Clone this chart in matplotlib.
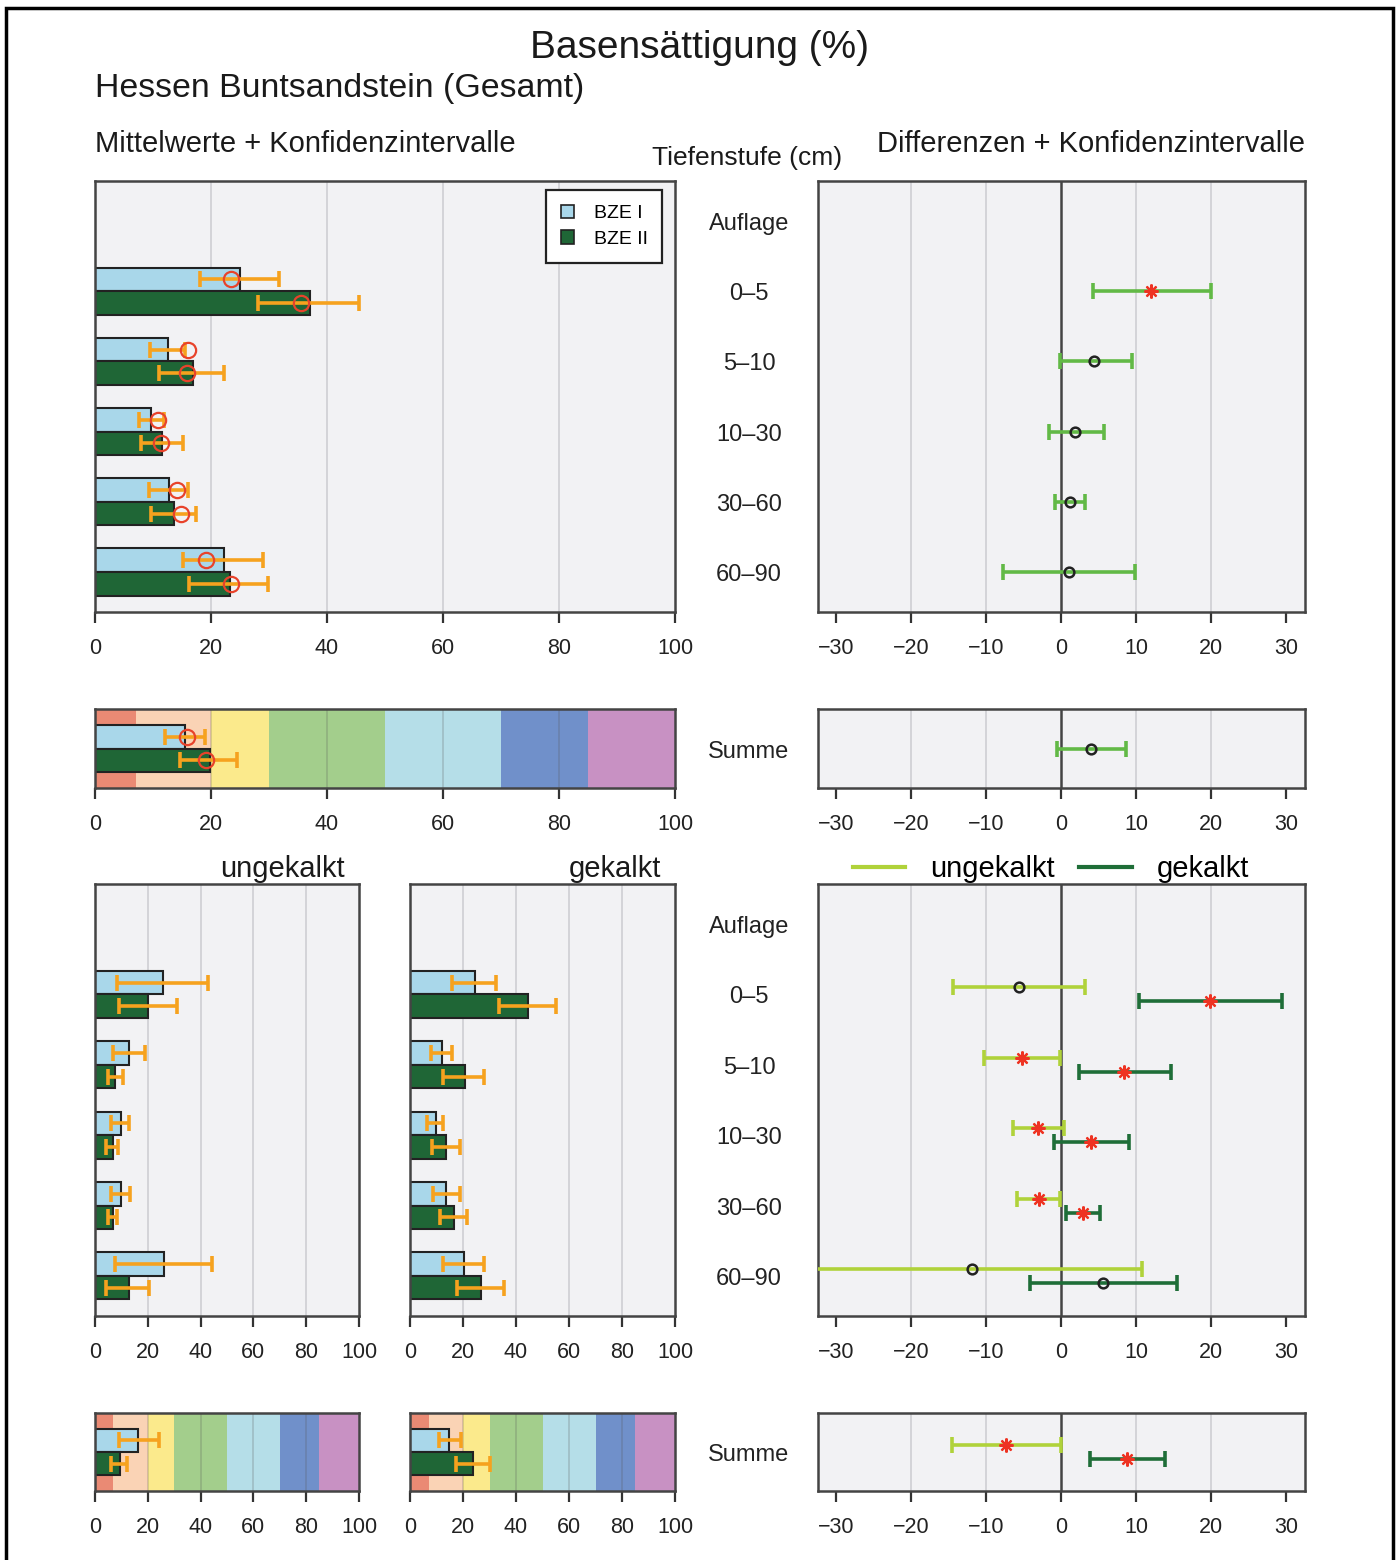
import numpy as np
import matplotlib
matplotlib.use('Agg')
import matplotlib.pyplot as plt
import matplotlib.transforms as mtransforms
from matplotlib.patches import Patch, Rectangle
from matplotlib.lines import Line2D

plt.rcParams['font.family'] = ['Liberation Sans', 'DejaVu Sans']

W, H = 1400, 1560

# Tiefenstufen (Auflage ohne Werte)
depths = ['Auflage', '0–5', '5–10', '10–30', '30–60', '60–90']
data_depths = ['0–5', '5–10', '10–30', '30–60', '60–90']

# Gesamt - Mittelwerte, Mediane, Konfidenzintervalle
ges_bze1_mean = [25.0, 12.5, 9.7, 12.7, 22.2]
ges_bze1_med = [23.4, 16.1, 10.8, 14.2, 19.2]
ges_bze1_lo = [18.1, 9.4, 7.5, 9.3, 15.1]
ges_bze1_hi = [31.8, 15.5, 11.9, 16.0, 29.0]
ges_bze2_mean = [37.0, 16.9, 11.6, 13.7, 23.2]
ges_bze2_med = [35.6, 15.8, 11.3, 14.8, 23.5]
ges_bze2_lo = [28.1, 11.1, 7.9, 9.7, 16.2]
ges_bze2_hi = [45.6, 22.3, 15.1, 17.4, 29.8]

# Gesamt - Summe
sum_bze1 = dict(mean=15.5, med=15.8, lo=12.1, hi=19.0)
sum_bze2 = dict(mean=19.8, med=19.1, lo=14.7, hi=24.5)

# Gesamt - Differenzen
ges_diff = [12.0, 4.4, 1.9, 1.2, 1.0]
ges_diff_lo = [4.2, -0.2, -1.6, -0.8, -7.8]
ges_diff_hi = [20.0, 9.4, 5.7, 3.2, 9.9]
ges_diff_sig = [True, False, False, False, False]
sum_diff = dict(est=4.0, lo=-0.5, hi=8.7, sig=False)

# ungekalkt
ung_bze1_mean = [25.7, 12.8, 9.9, 9.9, 26.1]
ung_bze1_lo = [8.4, 7.0, 6.2, 6.2, 7.5]
ung_bze1_hi = [42.8, 19.1, 13.0, 13.3, 44.2]
ung_bze2_mean = [20.0, 7.7, 6.8, 7.0, 12.8]
ung_bze2_lo = [9.1, 5.1, 4.3, 4.8, 4.3]
ung_bze2_hi = [30.9, 10.6, 8.7, 8.4, 20.6]
ung_sum1 = dict(mean=16.4, lo=9.1, hi=24.3)
ung_sum2 = dict(mean=9.4, lo=6.2, hi=12.3)

# gekalkt
gek_bze1_mean = [24.5, 11.9, 9.7, 13.4, 20.2]
gek_bze1_lo = [16.0, 8.0, 6.5, 8.6, 12.6]
gek_bze1_hi = [32.5, 15.8, 12.6, 18.7, 27.9]
gek_bze2_mean = [44.6, 20.6, 13.6, 16.5, 26.7]
gek_bze2_lo = [33.7, 12.6, 8.3, 11.2, 17.7]
gek_bze2_hi = [55.2, 27.9, 18.7, 21.6, 35.6]
gek_sum1 = dict(mean=14.8, lo=10.9, hi=19.2)
gek_sum2 = dict(mean=23.9, lo=17.3, hi=30.3)

# Differenzen ungekalkt / gekalkt
ung_diff = [-5.6, -5.2, -3.1, -3.0, -11.9]
ung_diff_lo = [-14.4, -10.3, -6.4, -5.9, -36.0]
ung_diff_hi = [3.2, -0.1, 0.4, -0.1, 10.8]
ung_diff_sig = [False, True, True, True, False]
gek_diff = [19.9, 8.4, 4.0, 2.9, 5.6]
gek_diff_lo = [10.4, 2.4, -1.0, 0.6, -4.1]
gek_diff_hi = [29.5, 14.6, 9.0, 5.2, 15.4]
gek_diff_sig = [True, True, True, True, False]
ung_sum_diff = dict(est=-7.3, lo=-14.5, hi=0.0, sig=True)
gek_sum_diff = dict(est=8.8, lo=3.8, hi=13.8, sig=True)

# Bewertungsklassen (Farbbänder)
class_bounds = [0, 7, 20, 30, 50, 70, 85, 100]
class_colors = ['#EA8A74', '#FAD3B5', '#FBEA8C', '#A3CE8C', '#B5DEE8', '#7090CA', '#C891C3']

c_bze1 = '#A9D7EA'
c_bze2 = '#1F6636'
c_err = '#F6A21E'
c_med = '#E8432B'
c_diff = '#62B946'
c_ung = '#B0D23A'
c_gek = '#1F6E38'
c_bg = '#F2F2F4'
c_frame = '#444444'

pos = np.array([depths.index(d) for d in data_depths], dtype=float)
bh = 0.335

fig = plt.figure(figsize=(W / 100, H / 100), dpi=100)
down = mtransforms.ScaledTranslation(0, -3 / 100, fig.dpi_scale_trans)


def panel(x0, y0, x1, y1):
    return fig.add_axes([x0 / W, 1 - y1 / H, (x1 - x0) / W, (y1 - y0) / H])


def style(ax, xlim, ticks, ylim, grid, bg=True):
    ax.set_xlim(*xlim)
    ax.set_ylim(*ylim)
    if bg:
        ax.set_facecolor(c_bg)
    for g in grid:
        ax.axvline(g, color='#CFCFD3', lw=1.2, zorder=0.5)
    ax.set_xticks(ticks)
    ax.set_xticklabels([str(t).replace('-', '\u2212') for t in ticks])
    ax.set_yticks([])
    ax.tick_params(axis='x', direction='out', length=8, width=1.6, color='#333333',
                   labelsize=15.5, pad=11, labelcolor='#222222')
    for s in ax.spines.values():
        s.set_color(c_frame)
        s.set_linewidth(1.8)


def bars(ax, y, m1, lo1, hi1, m2, lo2, hi2, med1=None, med2=None):
    m1, lo1, hi1 = np.atleast_1d(m1), np.atleast_1d(lo1), np.atleast_1d(hi1)
    m2, lo2, hi2 = np.atleast_1d(m2), np.atleast_1d(lo2), np.atleast_1d(hi2)
    ax.barh(y - bh / 2, m1, height=bh, color=c_bze1, edgecolor='#222222', lw=1.5, zorder=2)
    ax.barh(y + bh / 2, m2, height=bh, color=c_bze2, edgecolor='#222222', lw=1.5, zorder=2)
    for yy, m, lo, hi in ((y - bh / 2, m1, lo1, hi1), (y + bh / 2, m2, lo2, hi2)):
        ax.errorbar(m, yy, xerr=[m - lo, hi - m], fmt='none', ecolor=c_err,
                    elinewidth=2.6, capsize=6, capthick=2.6, zorder=3)
    if med1 is not None:
        ax.plot(med1, y - bh / 2, 'o', mfc='none', mec=c_med, ms=11, mew=1.6, zorder=4)
        ax.plot(med2, y + bh / 2, 'o', mfc='none', mec=c_med, ms=11, mew=1.6, zorder=4)


def diffs(ax, y, est, lo, hi, sig, color):
    est, lo, hi = np.atleast_1d(est), np.atleast_1d(lo), np.atleast_1d(hi)
    sig = np.atleast_1d(sig)
    y = np.atleast_1d(y)
    ax.errorbar(est, y, xerr=[est - lo, hi - est], fmt='none', ecolor=color,
                elinewidth=2.6, capsize=6, capthick=2.6, zorder=3)
    ax.plot(est[~sig], y[~sig], 'o', mfc='none', mec='#222222', ms=7, mew=1.8, zorder=4)
    ax.plot(est[sig], y[sig], ls='none', marker=(8, 2, 0), color='#EE3322',
            ms=10, mew=1.6, zorder=4)


def bands(ax):
    for a, b, c in zip(class_bounds[:-1], class_bounds[1:], class_colors):
        ax.axvspan(a, b, color=c, lw=0, zorder=0.3)
    for g in [20, 40, 60, 80]:
        ax.axvline(g, color='#555555', alpha=0.25, lw=1.2, zorder=0.6)


ylim_main = (5.57, -0.57)
ylim_sum = (0.5625, -0.5625)
xt_bar = [0, 20, 40, 60, 80, 100]
xt_diff = [-30, -20, -10, 0, 10, 20, 30]
xl_diff = (-32.4, 32.5)

# ---- oberer Block: Gesamt ----
ax1 = panel(95, 181, 675, 612)
style(ax1, (0, 100), xt_bar, ylim_main, [20, 40, 60, 80])
bars(ax1, pos, np.array(ges_bze1_mean), np.array(ges_bze1_lo), np.array(ges_bze1_hi),
     np.array(ges_bze2_mean), np.array(ges_bze2_lo), np.array(ges_bze2_hi),
     ges_bze1_med, ges_bze2_med)
leg = ax1.legend([Patch(fc=c_bze1, ec='#222222', lw=1.2), Patch(fc=c_bze2, ec='#222222', lw=1.2)],
                 ['BZE I', 'BZE II'], loc='upper right', bbox_to_anchor=(0.978, 0.979),
                 fontsize=14, frameon=True, fancybox=False, edgecolor='#222222',
                 framealpha=1, handlelength=0.7, handleheight=0.7, borderpad=0.75,
                 labelspacing=0.42, handletextpad=1.0, borderaxespad=0)
leg.get_frame().set_linewidth(1.6)

ax2 = panel(818, 181, 1305, 612)
style(ax2, xl_diff, xt_diff, ylim_main, [-20, -10, 10, 20])
ax2.axvline(0, color='#444444', lw=1.8, zorder=1)
diffs(ax2, pos, np.array(ges_diff), np.array(ges_diff_lo), np.array(ges_diff_hi),
      np.array(ges_diff_sig), c_diff)

ax3 = panel(95, 709, 675, 788)
style(ax3, (0, 100), xt_bar, ylim_sum, [], bg=False)
bands(ax3)
bars(ax3, np.array([0.0]), sum_bze1['mean'], sum_bze1['lo'], sum_bze1['hi'],
     sum_bze2['mean'], sum_bze2['lo'], sum_bze2['hi'], sum_bze1['med'], sum_bze2['med'])

ax4 = panel(818, 709, 1305, 788)
style(ax4, xl_diff, xt_diff, ylim_sum, [-20, -10, 10, 20])
ax4.axvline(0, color='#444444', lw=1.8, zorder=1)
diffs(ax4, 0.0, sum_diff['est'], sum_diff['lo'], sum_diff['hi'], sum_diff['sig'], c_diff)

# ---- unterer Block: ungekalkt / gekalkt ----
ax5 = panel(95, 884, 359, 1316)
style(ax5, (0, 100), xt_bar, ylim_main, [20, 40, 60, 80])
bars(ax5, pos, np.array(ung_bze1_mean), np.array(ung_bze1_lo), np.array(ung_bze1_hi),
     np.array(ung_bze2_mean), np.array(ung_bze2_lo), np.array(ung_bze2_hi))

ax6 = panel(410, 884, 675, 1316)
style(ax6, (0, 100), xt_bar, ylim_main, [20, 40, 60, 80])
bars(ax6, pos, np.array(gek_bze1_mean), np.array(gek_bze1_lo), np.array(gek_bze1_hi),
     np.array(gek_bze2_mean), np.array(gek_bze2_lo), np.array(gek_bze2_hi))

ax7 = panel(818, 884, 1305, 1316)
style(ax7, xl_diff, xt_diff, ylim_main, [-20, -10, 10, 20])
ax7.axvline(0, color='#444444', lw=1.8, zorder=1)
off = 0.1
diffs(ax7, pos - off, np.array(ung_diff), np.array(ung_diff_lo), np.array(ung_diff_hi),
      np.array(ung_diff_sig), c_ung)
diffs(ax7, pos + off, np.array(gek_diff), np.array(gek_diff_lo), np.array(gek_diff_hi),
      np.array(gek_diff_sig), c_gek)
ax7.legend([Line2D([], [], color=c_ung, lw=3), Line2D([], [], color=c_gek, lw=3)],
           ['ungekalkt', 'gekalkt'], loc='center', bbox_to_anchor=(0.478, 1.035),
           ncol=2, frameon=False, fontsize=21, handlelength=1.8, handletextpad=0.85,
           columnspacing=0.85, borderpad=0, borderaxespad=0)

ax8 = panel(95, 1413, 359, 1491)
style(ax8, (0, 100), xt_bar, ylim_sum, [], bg=False)
bands(ax8)
bars(ax8, np.array([0.0]), ung_sum1['mean'], ung_sum1['lo'], ung_sum1['hi'],
     ung_sum2['mean'], ung_sum2['lo'], ung_sum2['hi'])

ax9 = panel(410, 1413, 675, 1491)
style(ax9, (0, 100), xt_bar, ylim_sum, [], bg=False)
bands(ax9)
bars(ax9, np.array([0.0]), gek_sum1['mean'], gek_sum1['lo'], gek_sum1['hi'],
     gek_sum2['mean'], gek_sum2['lo'], gek_sum2['hi'])

ax10 = panel(818, 1413, 1305, 1491)
style(ax10, xl_diff, xt_diff, ylim_sum, [-20, -10, 10, 20])
ax10.axvline(0, color='#444444', lw=1.8, zorder=1)
diffs(ax10, -off, ung_sum_diff['est'], ung_sum_diff['lo'], ung_sum_diff['hi'],
      ung_sum_diff['sig'], c_ung)
diffs(ax10, off, gek_sum_diff['est'], gek_sum_diff['lo'], gek_sum_diff['hi'],
      gek_sum_diff['sig'], c_gek)

# Tiefenstufen-Beschriftung zwischen den Panels
for ax, labels in ((ax1, depths), (ax5, depths), (ax3, ['Summe']), (ax8, ['Summe'])):
    tr = mtransforms.blended_transform_factory(fig.transFigure, ax.transData) + down
    for i, lab in enumerate(labels):
        ax.text(749 / W, i, lab, transform=tr, ha='center', va='center',
                fontsize=17, color='#222222')

# Titel
tc = '#1a1a1a'
ft = fig.transFigure + down
fig.text(699 / W, 1 - 45 / H, 'Basensättigung (%)', ha='center', va='center', fontsize=28,
         color=tc, transform=ft)
fig.text(95 / W, 1 - 86 / H, 'Hessen Buntsandstein (Gesamt)', ha='left', va='center',
         fontsize=24.4, color=tc, transform=ft)
fig.text(95 / W, 1 - 141 / H, 'Mittelwerte + Konfidenzintervalle', ha='left', va='center',
         fontsize=21, color=tc, transform=ft)
fig.text(1305 / W, 1 - 141 / H, 'Differenzen + Konfidenzintervalle', ha='right', va='center',
         fontsize=21, color=tc, transform=ft)
fig.text(747 / W, 1 - 155 / H, 'Tiefenstufe (cm)', ha='center', va='center', fontsize=19,
         color=tc, transform=ft)
ax5.text(1 - 14 / 264, 1 + 15 / 432, 'ungekalkt', transform=ax5.transAxes, ha='right',
         va='center', fontsize=21, color=tc)
ax6.text(1 - 14 / 265, 1 + 15 / 432, 'gekalkt', transform=ax6.transAxes, ha='right',
         va='center', fontsize=21, color=tc)

# Rahmen
fig.add_artist(Rectangle((6 / W, -0.02), 1387 / W, 1.02 - 8 / H, transform=fig.transFigure,
                         fill=False, ec='black', lw=2.5))

fig.savefig('out.png', dpi=100, facecolor='white')
